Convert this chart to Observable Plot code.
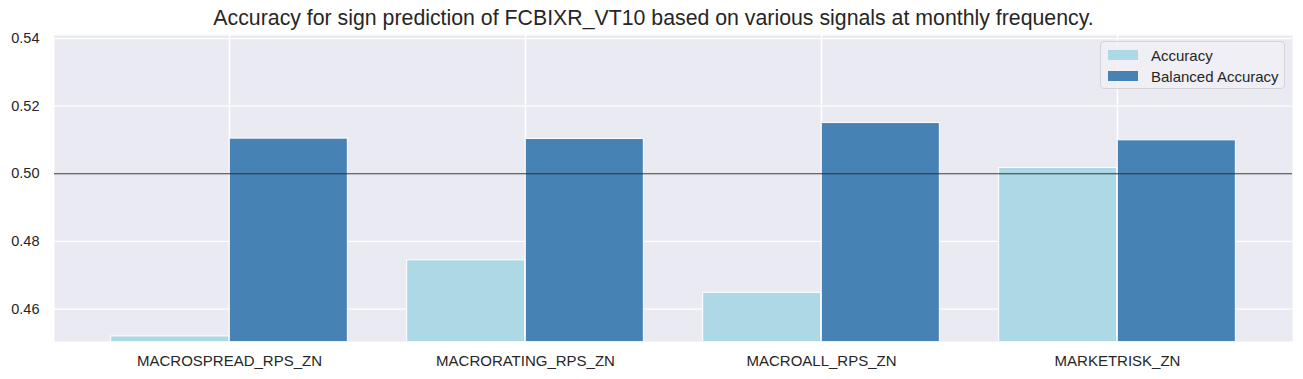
<!DOCTYPE html>
<html>
<head>
<meta charset="utf-8">
<script src="https://cdn.jsdelivr.net/npm/d3@7"></script>
<script src="https://cdn.jsdelivr.net/npm/@observablehq/plot@0.6"></script>
<style>
  html, body { margin: 0; padding: 0; background: #ffffff; }
  #wrap { position: relative; width: 1303px; height: 379px; font-family: "Liberation Sans", Arial, sans-serif; color: #262626; }
  #title { position: absolute; left: 0; width: 1303px; top: 5px; text-align: center; font-size: 21.3px; line-height: 26px; padding-left: 4px; box-sizing: border-box; }
  #legend { position: absolute; left: 1100px; top: 41px; width: 185px; height: 48px; box-sizing: border-box;
            border: 1px solid #d3d3d8; border-radius: 4px; background: rgba(240,240,246,0.85); font-size: 15px; }
  .row { position: absolute; left: 7px; height: 16px; display: flex; align-items: center; }
  .sw { width: 30px; height: 10px; margin-right: 13px; }
  svg { position: absolute; left: 0; top: 0; }
</style>
</head>
<body>
<div id="wrap">
  <div id="chart"></div>
  <div id="title">Accuracy for sign prediction of FCBIXR_VT10 based on various signals at monthly frequency.</div>
  <div id="legend"></div>
</div>
<script>
const categories = ["MACROSPREAD_RPS_ZN", "MACRORATING_RPS_ZN", "MACROALL_RPS_ZN", "MARKETRISK_ZN"];
const seriesNames = ["Accuracy", "Balanced Accuracy"];
const accuracy = [0.4519, 0.4744, 0.4648, 0.5017];
const balancedAccuracy = [0.5104, 0.5103, 0.5150, 0.5099];
const yTicks = [0.46, 0.48, 0.50, 0.52, 0.54];
const colors = ["#ADD8E6", "#4682B4"];

const W = 1303, H = 379;
const mL = 54, mR = 11, mT = 35, mB = 38;
const padOuter = 0.087;
const step = (W - mL - mR) / (categories.length + 2 * padOuter);

const data = [];
categories.forEach((c, i) => {
  data.push({category: c, series: seriesNames[0], value: accuracy[i]});
  data.push({category: c, series: seriesNames[1], value: balancedAccuracy[i]});
});

const chart = Plot.plot({
  width: W,
  height: H,
  marginLeft: mL,
  marginRight: mR,
  marginTop: mT,
  marginBottom: mB,
  style: {fontFamily: "'Liberation Sans', Arial, sans-serif", fontSize: "14.5px", color: "#262626", background: "transparent", overflow: "visible"},
  x: {domain: categories, paddingInner: 0, paddingOuter: padOuter, align: 0.5, label: null},
  y: {domain: [0.4504, 0.5409], label: null},
  color: {domain: seriesNames, range: colors},
  marks: [
    Plot.frame({fill: "#EAEAF2", stroke: "none"}),
    Plot.ruleY(yTicks, {stroke: "white", strokeWidth: 1.25}),
    Plot.gridX(categories, {stroke: "white", strokeOpacity: 1, strokeWidth: 1.5}),
    Plot.barY(data.filter(d => d.series === seriesNames[0]), {
      x: "category", y: "value", fill: "series", stroke: "white", strokeWidth: 1,
      insetLeft: 0.1 * step, insetRight: 0.5 * step, clip: true
    }),
    Plot.barY(data.filter(d => d.series === seriesNames[1]), {
      x: "category", y: "value", fill: "series", stroke: "white", strokeWidth: 1,
      insetLeft: 0.5 * step, insetRight: 0.1 * step, clip: true
    }),
    Plot.ruleY([0.5], {stroke: "#333333", strokeWidth: 1}),
    Plot.axisY({ticks: yTicks, tickFormat: d3.format(".2f"), tickSize: 0, tickPadding: 15, fontSize: 14.5, label: null}),
    Plot.axisX({tickSize: 0, tickPadding: 14, fontSize: 15, label: null})
  ]
});
document.getElementById("chart").appendChild(chart);

const legend = document.getElementById("legend");
seriesNames.forEach((name, i) => {
  const row = document.createElement("div");
  row.className = "row";
  row.style.top = (5 + i * 21) + "px";
  const sw = document.createElement("div");
  sw.className = "sw";
  sw.style.background = colors[i];
  const t = document.createElement("span");
  t.textContent = name;
  row.appendChild(sw);
  row.appendChild(t);
  legend.appendChild(row);
});
</script>
</body>
</html>
